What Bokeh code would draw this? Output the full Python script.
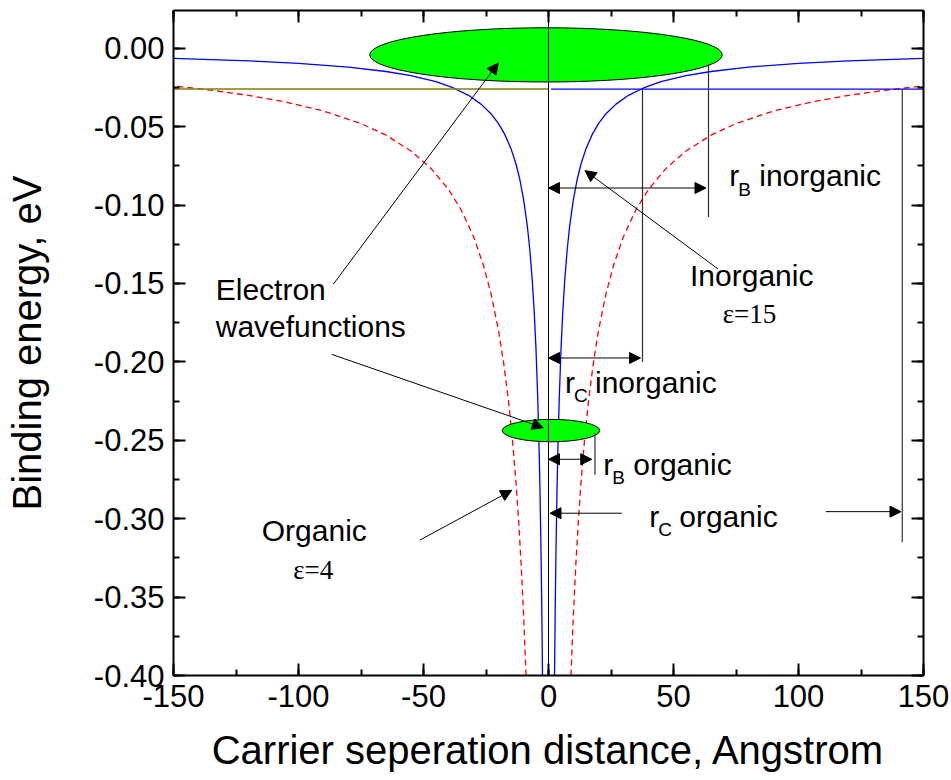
from bokeh.plotting import figure
from bokeh.models import (LinearAxis, Range1d, SingleIntervalTicker, PrintfTickFormatter,
                          Span, Arrow, NormalHead, Label, CustomLabelingPolicy)
from bokeh.embed import file_html
from bokeh.resources import INLINE

# ---- data -------------------------------------------------------------
# Coulomb binding energy (eV) vs. electron-hole separation (Angstrom),
# right-hand branch; the left branch is its mirror image.
r_inorganic = [2.4, 2.7, 3.0, 3.4, 3.8, 4.3, 5.0, 5.7, 6.5, 7.5, 8.5, 10, 11.5, 13, 15,
               17.5, 20, 23, 27, 32, 38, 45, 55, 65, 80, 100, 120, 150]
E_inorganic = [-0.400, -0.3556, -0.320, -0.2824, -0.2526, -0.2233, -0.192, -0.1684,
               -0.1477, -0.128, -0.1129, -0.096, -0.0835, -0.0738, -0.064, -0.0549,
               -0.048, -0.0417, -0.0356, -0.030, -0.0253, -0.0213, -0.0175, -0.0148,
               -0.012, -0.0096, -0.008, -0.0064]

r_organic = [9, 9.5, 10, 11, 12, 13, 14.5, 16, 18, 20, 23, 26, 30, 35, 40, 47, 55, 65,
             75, 90, 105, 120, 135, 150]
E_organic = [-0.400, -0.379, -0.360, -0.3273, -0.300, -0.2769, -0.2483, -0.225, -0.200,
             -0.180, -0.1565, -0.1385, -0.120, -0.1029, -0.090, -0.0766, -0.0655,
             -0.0554, -0.048, -0.040, -0.0343, -0.030, -0.0267, -0.024]

kT = -0.026                     # thermal energy level, eV
kT_left = [-150, 0]             # olive part of the kT line
kT_right = [1, 150]             # blue part of the kT line

# characteristic radii, Angstrom
rB_inorganic = 64.0
rC_inorganic = 37.6
rB_organic = 18.6
rC_organic = 141.5

# electron wavefunction sketches: centre x, centre y, width, height
wf_x = [-1.0, 1.0]
wf_y = [-0.0042, -0.2438]
wf_w = [141.0, 39.0]
wf_h = [0.0346, 0.0143]

x_ticks_interval = 50
y_ticks_interval = 0.05

FONT = "Liberation Sans"
SERIF = "Liberation Serif"

# ---- figure -----------------------------------------------------------
p = figure(frame_width=750, frame_height=665,
           min_border_left=173, min_border_right=28, min_border_top=10,
           min_border_bottom=105,
           x_range=Range1d(-150, 150), y_range=Range1d(-0.40, 0.0241),
           output_backend="svg", toolbar_location=None,
           background_fill_color="white", border_fill_color="white")
p.outline_line_color = None
p.xgrid.visible = False
p.ygrid.visible = False

xticker = SingleIntervalTicker(interval=x_ticks_interval, num_minor_ticks=2)
yticker = SingleIntervalTicker(interval=y_ticks_interval, num_minor_ticks=2)

bottom_axis = p.below[0]
left_axis = p.left[0]
bottom_axis.ticker = xticker
left_axis.ticker = yticker
bottom_axis.formatter = PrintfTickFormatter(format="%d")
left_axis.formatter = PrintfTickFormatter(format="%.2f")
bottom_axis.axis_label = "Carrier seperation distance, Angstrom"
left_axis.axis_label = "Binding energy, eV"

# mirrored frame axes carry ticks only
no_labels = CustomLabelingPolicy(code="""
    for (let i = 0; i < indices.size; i++) indices.unset(i)
    return indices
""")
top_axis = LinearAxis(ticker=xticker, major_label_policy=no_labels)
right_axis = LinearAxis(ticker=yticker, major_label_policy=no_labels)
p.add_layout(top_axis, "above")
p.add_layout(right_axis, "right")

for ax in [bottom_axis, left_axis, top_axis, right_axis]:
    ax.axis_line_width = 2
    ax.axis_line_color = "black"
    ax.major_tick_line_width = 2
    ax.minor_tick_line_width = 2
    ax.major_tick_line_color = "black"
    ax.minor_tick_line_color = "black"
    ax.major_tick_in = 12
    ax.major_tick_out = 0
    ax.minor_tick_in = 6
    ax.minor_tick_out = 0
    ax.major_label_text_font = FONT
    ax.major_label_text_font_size = "31px"
    ax.major_label_text_color = "black"
    ax.axis_label_text_font = FONT
    ax.axis_label_text_font_size = "40px"
    ax.axis_label_text_font_style = "normal"
    ax.axis_label_text_color = "black"
    ax.major_label_standoff = 9

for ax in [top_axis, right_axis]:
    ax.major_label_standoff = 0
    ax.major_label_text_font_size = "0px"

left_axis.axis_label_standoff = 42
bottom_axis.axis_label_standoff = 18
bottom_axis.major_label_standoff = 9

# ---- curves -----------------------------------------------------------
x_in_left = [-r for r in r_inorganic]
x_org_left = [-r for r in r_organic]

p.line(x_in_left, E_inorganic, line_color="blue", line_width=1.3)
p.line(r_inorganic, E_inorganic, line_color="blue", line_width=1.3)
p.line(x_org_left, E_organic, line_color="red", line_width=1.3, line_dash="6 4")
p.line(r_organic, E_organic, line_color="red", line_width=1.3, line_dash="6 4")

p.line(kT_left, [kT, kT], line_color="#808000", line_width=1.5)
p.line(kT_right, [kT, kT], line_color="blue", line_width=1.3)

# wavefunctions
p.ellipse(wf_x, wf_y, width=wf_w, height=wf_h, fill_color="#00ff00",
          line_color="black", line_width=1)

# ---- radius markers ---------------------------------------------------
p.add_layout(Span(location=0, dimension="height", line_color="black", line_width=1))
p.segment(x0=[rC_inorganic, rB_inorganic, rC_organic, rB_organic],
          y0=[kT, -0.0101, kT, -0.2455],
          x1=[rC_inorganic, rB_inorganic, rC_organic, rB_organic],
          y1=[-0.200, -0.1076, -0.315, -0.272],
          line_color="#303030", line_width=1.2)


def head():
    return NormalHead(size=11, fill_color="black", line_color="black", line_width=1)


def arrow(x0, y0, x1, y1, double=False):
    p.add_layout(Arrow(start=head() if double else None, end=head(),
                       x_start=x0, y_start=y0, x_end=x1, y_end=y1,
                       line_color="black", line_width=1))


arrow(0, -0.0891, rB_inorganic - 1, -0.0891, double=True)
arrow(0, -0.1975, rC_inorganic - 0.8, -0.1975, double=True)
arrow(0, -0.2621, rB_organic - 1.3, -0.2621, double=True)
arrow(29.3, -0.2965, 0.6, -0.2965)
arrow(110.9, -0.2955, rC_organic - 0.5, -0.2955)

# pointers from the annotations
arrow(67.8, -0.1407, 14.6, -0.078)          # Inorganic
arrow(-86.1, -0.1505, -20.1, -0.0094)       # wavefunction (large)
arrow(-86.7, -0.1952, -2.1, -0.242)         # wavefunction (small)
arrow(-51.4, -0.3136, -14.7, -0.2819)       # Organic


# ---- text -------------------------------------------------------------
DY = 0.0064


def text(x, y, s, size="30px", font=FONT):
    p.add_layout(Label(x=x, y=y + DY, text=s, text_font=font, text_font_size=size,
                       text_color="black", text_align="left",
                       text_baseline="alphabetic"))


def r_label(x, y, sub, rest):
    text(x, y, "r")
    text(x + 3.6, y - 0.0085, sub, size="19px")
    text(x + 12.0, y, rest)


r_label(72.3, -0.0878, "B", "inorganic")
r_label(6.6, -0.2195, "C", "inorganic")
r_label(21.9, -0.2717, "B", "organic")
r_label(40.3, -0.3047, "C", "organic")

text(56.6, -0.1512, "Inorganic")
text(69.7, -0.176, "\u03b5=15", size="27px", font=SERIF)
text(-133.1, -0.1601, "Electron")
text(-133.1, -0.1841, "wavefunctions")
text(-114.7, -0.3142, "Organic")
text(-102.1, -0.3393, "\u03b5=4", size="27px", font=SERIF)


# k_B T marker beside the axis, in pixels from the frame's lower-left corner
def side_text(sx, sy, s, size):
    p.add_layout(Label(x=sx, y=sy, x_units="screen", y_units="screen", text=s,
                       text_font=FONT, text_font_size=size, text_color="black",
                       text_align="left", text_baseline="alphabetic"))


side_text(-85, 579, "K", "30px")
side_text(-65, 570, "B", "19px")
side_text(-53, 579, "T", "30px")

open("out.html", "w").write(file_html(p, INLINE))
